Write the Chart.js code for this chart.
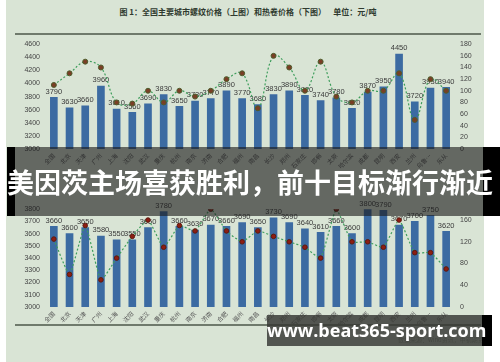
<!DOCTYPE html>
<html>
<head>
<meta charset="utf-8">
<script src="https://cdn.jsdelivr.net/npm/chart.js@4.4.1/dist/chart.umd.min.js"></script>
<style>
  html, body { margin: 0; padding: 0; }
  body { width: 500px; height: 362px; position: relative; overflow: hidden; background: #ffffff; font-family: "Noto Sans CJK SC", sans-serif; }
  #photo { position: absolute; left: 6px; top: 0; width: 478px; height: 362px; background: #d9e4d5; }
  canvas { position: absolute; left: 0; }
  #upper { top: 34px; }
  #lower { top: 199px; }
  .rule { position: absolute; left: 15px; width: 466px; height: 2px; background: #6f7a6c; }
  #title { position: absolute; top: 6px; left: 0; width: 496px; text-align: center; font-size: 8px; font-weight: bold; color: #2f3a2f; white-space: pre; }
  #source { position: absolute; top: 335px; left: 398px; font-size: 6px; color: #8a948a; }
  #banner { position: absolute; top: 147px; left: 15px; width: 468px; height: 69px; background: rgba(28,28,28,0.62); }
  .blk { position: absolute; background: #000; }
  #bannerText { position: absolute; top: 166px; left: 0; width: 500px; text-align: center; font-size: 27px; font-weight: bold; color: #fff; line-height: 32px; white-space: nowrap; }
  #mark { position: absolute; top: 315px; left: 267px; width: 215px; height: 31px; background: rgba(52,54,50,0.82); }
  #markText { position: absolute; top: 315px; left: 267px; width: 215px; height: 31px; line-height: 31px; text-align: center; font-family: "Open Sans", sans-serif; font-weight: bold; font-size: 18px; color: #fff; white-space: nowrap; }
</style>
</head>
<body>
<div id="photo"></div>
<div id="title">图 1：全国主要城市螺纹价格（上图）和热卷价格（下图）    单位：元/吨</div>
<div class="rule" style="top:33px"></div>
<canvas id="upper" width="500" height="139"></canvas>
<canvas id="lower" width="500" height="138"></canvas>
<div class="rule" style="top:324px"></div>
<div id="source">数据来源：wind资讯，中钢期货</div>
<div id="banner"></div>
<div class="blk" style="left:7px;top:147px;width:8px;height:69px"></div>
<div class="blk" style="left:483px;top:147px;width:17px;height:69px"></div>
<div id="bannerText">美因茨主场喜获胜利，前十目标渐行渐近</div>
<div id="mark"></div>
<div class="blk" style="left:482px;top:315px;width:10px;height:31px"></div>
<div id="markText">www.beat365-sport.com</div>
<script>
// ===============================
// DATOS
// ===============================
const cities = ["全国", "北京", "天津", "广州", "上海", "沈阳", "武汉", "重庆", "杭州", "南京", "济南", "合肥", "福州",
  "南昌", "长沙", "郑州", "石家庄", "邯郸", "太原", "哈尔滨", "成都", "昆明", "西安", "兰州", "乌鲁…", "乐从"];

// 螺纹 (upper chart)
const rebarPrice = [3790, 3630, 3660, 3960, 3610, 3560, 3690, 3830, 3650, 3730, 3770, 3890, 3770,
  3680, 3830, 3890, 3820, 3740, 3780, 3620, 3870, 3950, 4450, 3720, 3930, 3940];
const rebarRight = [110, 130, 150, 140, 80, 78, 100, 80, 100, 90, 100, 120, 130,
  70, 160, 140, 100, 150, 90, 80, 100, 100, 130, 50, 120, 100];

// 热卷 (lower chart)
const coilPrice = [3660, 3600, 3650, 3580, 3550, 3550, 3650, 3780, 3660, 3630, 3670, 3660, 3690,
  3650, 3730, 3690, 3640, 3610, 3660, 3600, 3800, 3790, 3670, 3700, 3750, 3620];
const coilRight = [125, 60, 150, 50, 90, 130, 160, 110, 150, 140, 180, 140, 120,
  140, 130, 120, 110, 90, 180, 120, 120, 110, 160, 100, 100, 70];

// ejes
const rebarAxis = { min: 3000, max: 4600, step: 200 };
const coilAxis = { min: 3000, max: 3800, step: 100 };
const rightAxis = { min: 0, max: 180, step: 20 };

// ===============================
// ESTILOS
// ===============================
const barColor = "#3c6ba2";
const lineColor = "#3e9e5c";
const tickFont = { family: "Liberation Sans", size: 7 };
const cityFont = { family: "Noto Sans CJK SC", size: 6 };

// etiquetas encima de las barras
const barLabels = {
  id: "barLabels",
  afterDatasetDraw(chart, args) {
    if (chart.data.datasets[args.index].type !== "bar") return;
    const ctx = chart.ctx;
    ctx.save();
    ctx.font = "7.5px 'Liberation Sans'";
    ctx.fillStyle = "#3a3a3a";
    ctx.textAlign = "center";
    ctx.textBaseline = "bottom";
    args.meta.data.forEach((bar, i) => {
      ctx.fillText(chart.data.datasets[args.index].data[i], bar.x, bar.y - 2);
    });
    ctx.restore();
  }
};

function makeChart(id, prices, rightVals, axis, xHeight, pointStyle) {
  return new Chart(document.getElementById(id), {
    data: {
      labels: cities,
      datasets: [
        {
          type: "line",
          data: rightVals,
          yAxisID: "yr",
          order: 0,
          borderColor: lineColor,
          borderWidth: 1.2,
          borderDash: [2, 2],
          tension: pointStyle.tension,
          pointRadius: pointStyle.radius,
          pointBackgroundColor: pointStyle.fill,
          pointBorderColor: pointStyle.border,
          pointBorderWidth: 1
        },
        {
          type: "bar",
          data: prices,
          yAxisID: "y",
          order: 1,
          backgroundColor: barColor,
          barThickness: 7
        }
      ]
    },
    options: {
      responsive: false,
      animation: false,
      devicePixelRatio: 1,
      layout: { padding: { top: 6, left: 0, right: 0, bottom: 0 } },
      plugins: { legend: { display: false }, tooltip: { enabled: false } },
      scales: {
        x: {
          grid: { display: false, drawTicks: false },
          border: { display: false },
          ticks: { font: cityFont, color: "#555", minRotation: 45, maxRotation: 45, autoSkip: false, padding: 3 },
          afterFit: s => { s.height = xHeight; }
        },
        y: {
          position: "left",
          min: axis.min, max: axis.max,
          grid: { display: false, drawTicks: false },
          border: { display: false },
          ticks: { stepSize: axis.step, font: tickFont, color: "#444", padding: 6, callback: v => String(v) },
          afterFit: s => { s.width = 46; }
        },
        yr: {
          position: "right",
          min: rightAxis.min, max: rightAxis.max,
          grid: { display: false, drawTicks: false },
          border: { display: false },
          ticks: { stepSize: rightAxis.step, font: tickFont, color: "#444", padding: 6, callback: v => String(v) },
          afterFit: s => { s.width = 46; }
        }
      }
    },
    plugins: [barLabels]
  });
}

makeChart("upper", rebarPrice, rebarRight, rebarAxis, 24,
  { tension: 0.4, radius: 2.5, fill: "#7a3e26", border: "#4f5c2c" });
makeChart("lower", coilPrice, coilRight, coilAxis, 30,
  { tension: 0.15, radius: 2.3, fill: "#8e1d12", border: "#5c1a10" });
</script>
</body>
</html>
